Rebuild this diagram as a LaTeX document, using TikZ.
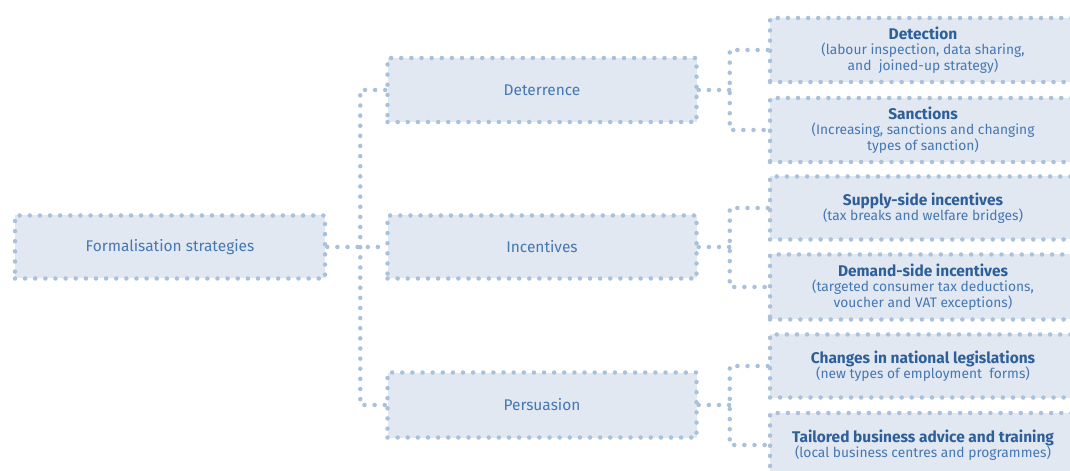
\documentclass[tikz,border=0pt]{standalone}
\usepackage{fontspec}
\setmainfont{Fira Sans}
\usetikzlibrary{positioning,calc}
\definecolor{BoxFill}{HTML}{E1E8F2}
\definecolor{DotBlue}{HTML}{A9C1DA}
\definecolor{TextBlue}{HTML}{4577B2}
\definecolor{TitleBlue}{HTML}{2E5F99}
\newlength\pxu
\setlength\pxu{0.025cm}
\tikzset{
  dots/.style={draw=DotBlue,line width=3.2pt,line cap=round,dash pattern=on 0pt off 7.2pt},
  stratbox/.style={dots,fill=BoxFill,minimum width=309\pxu,minimum height=63\pxu,
    inner sep=0pt,text=TextBlue,font=\fontsize{11}{13}\selectfont},
  leafbox/.style={stratbox,minimum width=306\pxu,minimum height=64\pxu,align=center,
    font=\fontsize{9.8}{11}\selectfont},
  link/.style={dots}
}
\newcommand\leaftitle[1]{\textcolor{TitleBlue}{\fontsize{11}{11}\selectfont\bfseries #1}}
\begin{document}
\begin{tikzpicture}[x=0.025cm,y=-0.025cm]
\clip (0,0) rectangle (1070,471);
\fill[white] (0,0) rectangle (1070,471);
% root and middle level
\node[stratbox,minimum width=310\pxu] (root) at (170,247) {Formalisation strategies};
\node[stratbox,minimum height=64\pxu] (det) at (542,90) {Deterrence};
\node[stratbox] (inc) at (542,247) {Incentives};
\node[stratbox,minimum height=65\pxu] (per) at (542,405) {Persuasion};
% leaves
\node[leafbox] (detA) at (923,50) {\leaftitle{Detection}\\(labour inspection, data sharing,\\and\ \ joined-up strategy)};
\node[leafbox] (detB) at (923,130) {\leaftitle{Sanctions}\\(Increasing, sanctions and changing\\types of sanction)};
\node[leafbox,minimum height=63\pxu] (incA) at (923,208) {\leaftitle{Supply-side incentives}\\(tax breaks and welfare bridges)};
\node[leafbox,minimum height=65\pxu] (incB) at (923,287) {\leaftitle{Demand-side incentives}\\(targeted\ consumer\ tax\ deductions,\\voucher and VAT exceptions)};
\node[leafbox,minimum height=63\pxu] (perA) at (923,366) {\leaftitle{Changes in national legislations}\\(new types of employment\ \ forms)};
\node[leafbox] (perB) at (923,445) {\leaftitle{Tailored business advice and training}\\(local\ business\ centres\ and\ programmes)};
% connectors
\coordinate (trunk) at ($(root.east)+(33,0)$);
\draw[link] (root.east) -- (inc.west);
\draw[link] (det.west) -| (trunk) |- (per.west);
\foreach \mid in {det,inc,per}{
  \coordinate (\mid fork) at ($(\mid.east)+(31,0)$);
  \draw[link] (\mid.east) -- (\mid fork);
  \draw[link] (\mid A.west) -| (\mid fork) |- (\mid B.west);
}
\end{tikzpicture}
\end{document}
